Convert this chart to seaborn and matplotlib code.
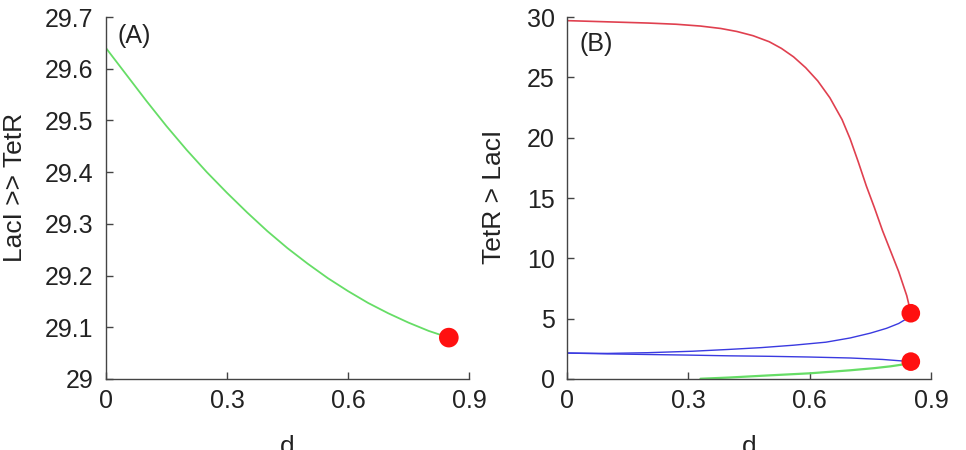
import numpy as np
import pandas as pd
import matplotlib
matplotlib.use("Agg")
import matplotlib.pyplot as plt
import seaborn as sns

# Panel A data
a_d = [0.0, 0.05, 0.10, 0.15, 0.20, 0.25, 0.30, 0.35, 0.40, 0.45, 0.50,
       0.55, 0.60, 0.65, 0.70, 0.75, 0.80, 0.85]
a_y = [29.640, 29.589, 29.538, 29.489, 29.443, 29.400, 29.360, 29.322, 29.286,
       29.253, 29.223, 29.195, 29.170, 29.147, 29.127, 29.109, 29.093, 29.080]
a_end_d = [0.85]
a_end_y = [29.08]

# Panel B data
red_d = [0.0, 0.10, 0.20, 0.27, 0.33, 0.38, 0.42, 0.46, 0.50, 0.53, 0.56, 0.59, 0.62,
         0.65, 0.68, 0.70, 0.72, 0.74, 0.76, 0.78, 0.80, 0.82, 0.84, 0.85]
red_y = [29.7, 29.6, 29.5, 29.4, 29.25, 29.05, 28.8, 28.45, 27.95, 27.4, 26.7, 25.8, 24.7,
         23.3, 21.5, 19.9, 18.0, 16.0, 14.2, 12.3, 10.6, 8.9, 6.9, 5.5]
blue_up_d = [0.0, 0.10, 0.20, 0.31, 0.40, 0.48, 0.56, 0.64, 0.70, 0.75, 0.79, 0.82, 0.84, 0.85]
blue_up_y = [2.15, 2.12, 2.18, 2.3, 2.45, 2.6, 2.8, 3.05, 3.4, 3.8, 4.2, 4.6, 5.0, 5.45]
blue_lo_d = [0.0, 0.10, 0.20, 0.30, 0.40, 0.50, 0.60, 0.70, 0.78, 0.85]
blue_lo_y = [2.15, 2.08, 2.03, 1.98, 1.92, 1.88, 1.82, 1.74, 1.62, 1.44]
green_d = [0.33, 0.40, 0.50, 0.60, 0.70, 0.76, 0.80, 0.83, 0.85]
green_y = [0.02, 0.12, 0.30, 0.47, 0.72, 0.90, 1.05, 1.20, 1.35]
b_end_d = [0.85, 0.85]
b_end_y = [5.45, 1.44]

sns.set_theme(style="ticks")
plt.rcParams['font.family'] = ['Liberation Sans', 'DejaVu Sans']

fig = plt.figure(figsize=(9.66, 4.5), dpi=100)
axA = fig.add_axes([0.1097, 0.1578, 0.3758, 0.8044])
axB = fig.add_axes([0.587, 0.1578, 0.3768, 0.8044])

GREEN = "#66dd66"
RED = "#e0404f"
BLUE = "#3a3ae0"
DOT = "#ff1010"

sns.lineplot(x=a_d, y=a_y, ax=axA, color=GREEN, lw=1.3, sort=False)
sns.scatterplot(x=a_end_d, y=a_end_y, ax=axA, color=DOT, s=200, edgecolor="none", zorder=5, clip_on=False)

sns.lineplot(x=red_d, y=red_y, ax=axB, color=RED, lw=1.2, sort=False)
sns.lineplot(x=blue_up_d, y=blue_up_y, ax=axB, color=BLUE, lw=1.0, sort=False)
sns.lineplot(x=blue_lo_d, y=blue_lo_y, ax=axB, color=BLUE, lw=1.0, sort=False)
sns.lineplot(x=green_d, y=green_y, ax=axB, color=GREEN, lw=1.6, sort=False)
sns.scatterplot(x=b_end_d, y=b_end_y, ax=axB, color=DOT, s=180, edgecolor="none", zorder=5, clip_on=False)

axA.set_xlim(0, 0.9)
axA.set_ylim(29, 29.7)
axA.set_xticks([0, 0.3, 0.6, 0.9])
axA.set_xticklabels(["0", "0.3", "0.6", "0.9"])
axA.set_yticks([29, 29.1, 29.2, 29.3, 29.4, 29.5, 29.6, 29.7])
axA.set_yticklabels(["29", "29.1", "29.2", "29.3", "29.4", "29.5", "29.6", "29.7"])

axB.set_xlim(0, 0.9)
axB.set_ylim(0, 30)
axB.set_xticks([0, 0.3, 0.6, 0.9])
axB.set_xticklabels(["0", "0.3", "0.6", "0.9"])
axB.set_yticks([0, 5, 10, 15, 20, 25, 30])

specs = [(axA, "(A)", 0.948, "LacI >> TetR", -0.218, 0.528),
         (axB, "(B)", 0.925, "TetR > LacI", -0.168, 0.503)]
for ax, lab, laby, ylab, ylx, yly in specs:
    sns.despine(ax=ax)
    for s in ["left", "bottom"]:
        ax.spines[s].set_color("#444444")
        ax.spines[s].set_linewidth(1.0)
    ax.tick_params(direction="in", length=5, width=1, color="#444444",
                   labelsize=18, labelcolor="#222222")
    ax.tick_params(axis="y", pad=9)
    ax.tick_params(axis="x", pad=7)
    ax.set_xlabel("d", fontsize=19, color="#222222")
    ax.xaxis.set_label_coords(0.5, -0.155)
    ax.set_ylabel(ylab, fontsize=19, color="#222222")
    ax.yaxis.set_label_coords(ylx, yly)
    ax.text(0.033, laby, lab, transform=ax.transAxes, fontsize=18,
            color="#222222", va="center", ha="left")

fig.savefig("out.png", dpi=100)
